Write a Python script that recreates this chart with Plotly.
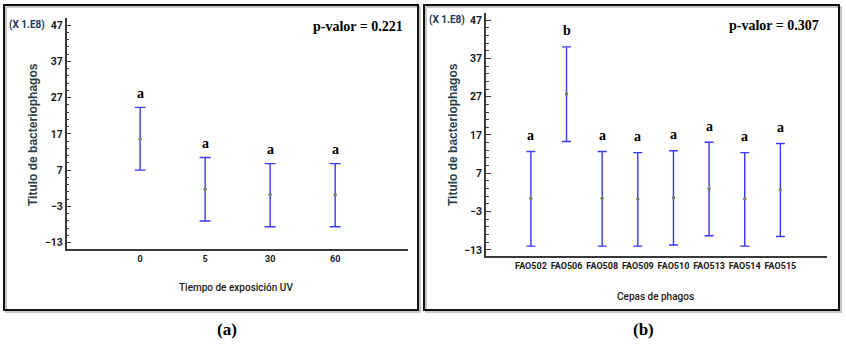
import plotly.graph_objects as go

W, H = 846, 352

# Panel (a): Tiempo de exposición UV
cats_a = ["0", "5", "30", "60"]
mean_a = [15.6, 1.7, 0.2, 0.2]
upper_a = [24.3, 10.5, 8.8, 8.8]
lower_a = [7.0, -7.0, -8.6, -8.6]
letters_a = ["a", "a", "a", "a"]

# Panel (b): Cepas de phagos
cats_b = ["FAO502", "FAO506", "FAO508", "FAO509", "FAO510", "FAO513", "FAO514", "FAO515"]
mean_b = [0.5, 27.7, 0.5, 0.3, 0.6, 2.9, 0.3, 2.7]
upper_b = [12.7, 40.0, 12.7, 12.4, 12.9, 15.1, 12.4, 14.8]
lower_b = [-12.0, 15.3, -12.0, -12.0, -11.7, -9.3, -12.0, -9.5]
letters_b = ["a", "b", "a", "a", "a", "a", "a", "a"]

yticks = [-13, -3, 7, 17, 27, 37, 47]
pvals = ["p-valor = 0.221", "p-valor = 0.307"]

NARROW = "Roboto, Lato, sans-serif"
SANS = "Liberation Sans, Arial, sans-serif"
SERIF = "Liberation Serif, Times New Roman, serif"
BLUE = "#3838f8"

fig = go.Figure()

def add_panel(cats, mean, upper, lower, xa, ya, cap):
    xs = list(range(len(cats)))
    fig.add_trace(go.Scatter(
        x=xs, y=mean, mode="markers", xaxis=xa, yaxis=ya,
        marker=dict(size=3.5, color="#7d7d68"),
        error_y=dict(type="data", symmetric=False,
                     array=[u - m for u, m in zip(upper, mean)],
                     arrayminus=[m - l for m, l in zip(mean, lower)],
                     color=BLUE, thickness=1.4, width=cap),
        showlegend=False, hoverinfo="skip"))

add_panel(cats_a, mean_a, upper_a, lower_a, "x", "y", 5.5)
add_panel(cats_b, mean_b, upper_b, lower_b, "x2", "y2", 4.5)

def px(x):
    return x / W

def py(y):
    return 1 - y / H

axis_common = dict(showgrid=False, zeroline=False, showline=True,
                   linecolor="#3a3a3a", linewidth=1.5)
xtickfont = dict(family=NARROW, size=9, color="#1a1a1a", weight="bold")
ytickfont = dict(family=NARROW, size=10.5, color="#1a1a1a", weight="bold")

fig.update_layout(
    width=W, height=H, margin=dict(l=0, r=0, t=0, b=0),
    paper_bgcolor="white", plot_bgcolor="white",
    xaxis=dict(domain=[px(66.7), px(408)], range=[-1.13, 4.12],
               tickvals=list(range(len(cats_a))), ticktext=cats_a,
               ticks="", tickangle=0, tickfont=xtickfont,
               anchor="y", **axis_common),
    yaxis=dict(domain=[py(249.3), py(18.3)], range=[-14.82, 48.85],
               tickvals=yticks, ticks="inside", ticklen=5, tickcolor="#3a3a3a",
               minor=dict(dtick=2, tick0=-13, ticks="inside", ticklen=3, tickcolor="#3a3a3a"),
               tickfont=ytickfont, anchor="x", **axis_common),
    xaxis2=dict(domain=[px(486), px(826.7)], range=[-1.26, 8.3],
                tickvals=list(range(len(cats_b))), ticktext=cats_b,
                ticks="", tickangle=0, tickfont=xtickfont,
                anchor="y2", **axis_common),
    yaxis2=dict(domain=[py(256), py(13.3)], range=[-14.57, 48.75],
                tickvals=yticks, ticks="inside", ticklen=5, tickcolor="#3a3a3a",
                minor=dict(dtick=2, tick0=-13, ticks="inside", ticklen=3, tickcolor="#3a3a3a"),
                tickfont=ytickfont, anchor="x2", **axis_common),
)

ann = []
for i, (u, t) in enumerate(zip(upper_a, letters_a)):
    ann.append(dict(x=i, y=u, xref="x", yref="y", text=t, showarrow=False,
                    yshift=14, font=dict(family=SERIF, size=14, color="black", weight="bold")))
for i, (u, t) in enumerate(zip(upper_b, letters_b)):
    ann.append(dict(x=i, y=u, xref="x2", yref="y2", text=t, showarrow=False,
                    yshift=16, font=dict(family=SERIF, size=14, color="black", weight="bold")))

def txt(x, y, text, font, angle=0, xanchor="center"):
    ann.append(dict(x=px(x), y=py(y), xref="paper", yref="paper", text=text,
                    showarrow=False, textangle=angle, xanchor=xanchor, yanchor="middle",
                    font=font))

f_mult = dict(family=NARROW, size=10, color="#1f3560", weight="bold")
f_ytitle = dict(family=SANS, size=12, color="#2c4048", weight="bold")
f_xtitle = dict(family=NARROW, size=10, color="#1a1a1a", weight=500)
f_p = dict(family=SERIF, size=14, color="black", weight="bold")
f_lab = dict(family=SERIF, size=17, color="black", weight="bold")

txt(47, 25, "(X 1.E8)", f_mult, xanchor="right")
txt(467, 20, "(X 1.E8)", f_mult, xanchor="right")
txt(33, 135, "Titulo de bacteriophagos", f_ytitle, angle=-90)
txt(453, 135, "Titulo de bacteriophagos", f_ytitle, angle=-90)
txt(236, 287, "Tiempo de exposición UV", f_xtitle)
txt(655, 296, "Cepas de phagos", f_xtitle)
txt(357.5, 27, pvals[0], f_p)
txt(773.5, 26, pvals[1], f_p)
txt(227, 329, "(a)", f_lab)
txt(643, 329, "(b)", f_lab)
fig.update_layout(annotations=ann)

shapes = []
for (x0, x1) in [(4, 418), (424, 839)]:
    shapes.append(dict(type="rect", xref="paper", yref="paper",
                       x0=px(x0 + 2), x1=px(x1 + 2), y0=py(310 + 2), y1=py(5 + 2),
                       line=dict(color="#b5b5b5", width=1.5)))
    shapes.append(dict(type="rect", xref="paper", yref="paper",
                       x0=px(x0), x1=px(x1), y0=py(310), y1=py(5),
                       line=dict(color="#111111", width=2), fillcolor="rgba(0,0,0,0)"))
fig.update_layout(shapes=shapes)

fig.write_html("out.html")
